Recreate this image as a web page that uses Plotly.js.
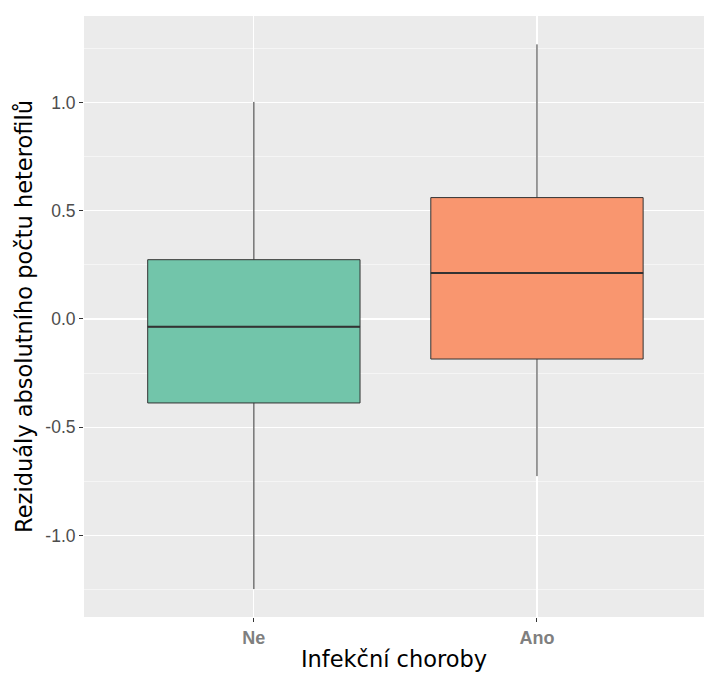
<!DOCTYPE html>
<html>
<head>
<meta charset="utf-8">
<script src="https://cdn.plot.ly/plotly-3.0.1.min.js"></script>
<style>html,body{margin:0;padding:0;background:#fff;}</style>
</head>
<body>
<div id="chart" style="width:704px;height:673px;"></div>
<script>
// Data
var categories = ["Ne", "Ano"];
var lowerWhisker = [-1.248, -0.726];
var q1Values = [-0.388, -0.185];
var medianValues = [-0.036, 0.212];
var q3Values = [0.274, 0.561];
var upperWhisker = [1.003, 1.269];
var fillColors = ["#72C5AA", "#F9966F"];
var yTickVals = [-1.0, -0.5, 0.0, 0.5, 1.0];
var yTickText = ["-1.0", "-0.5", "0.0", "0.5", "1.0"];

var traces = categories.map(function (c, i) {
  return {
    type: "box",
    x: [c],
    q1: [q1Values[i]],
    median: [medianValues[i]],
    q3: [q3Values[i]],
    lowerfence: [lowerWhisker[i]],
    upperfence: [upperWhisker[i]],
    fillcolor: fillColors[i],
    line: { color: "#333333", width: 1 },
    whiskerwidth: 0,
    width: 0.75,
    boxpoints: false,
    showlegend: false,
    hoverinfo: "skip"
  };
});

// thicker median segments like ggplot
var shapes = categories.map(function (c, i) {
  return {
    type: "line", xref: "x", yref: "y",
    x0: i - 0.375, x1: i + 0.375,
    y0: medianValues[i], y1: medianValues[i],
    line: { color: "#333333", width: 2 }
  };
});

var layout = {
  width: 704, height: 673,
  margin: { l: 84, r: 0, t: 16, b: 56, pad: 0 },
  paper_bgcolor: "#FFFFFF",
  plot_bgcolor: "#EBEBEB",
  font: { family: "Liberation Sans, Arial, sans-serif" },
  shapes: shapes,
  xaxis: {
    type: "category",
    range: [-0.6, 1.59],
    showgrid: true, gridcolor: "#FFFFFF", gridwidth: 1.1,
    zeroline: false, showline: false,
    ticks: "outside", ticklen: 4, tickcolor: "#333333", tickwidth: 1,
    tickfont: { family: "Liberation Sans, Arial, sans-serif", size: 18, color: "#7F7F7F", weight: "bold" },
    title: { text: "Infekční choroby", font: { family: "DejaVu Sans, sans-serif", size: 22.5, color: "#000000" }, standoff: 4 }
  },
  yaxis: {
    range: [-1.377, 1.400],
    tickvals: yTickVals, ticktext: yTickText,
    showgrid: true, gridcolor: "#FFFFFF", gridwidth: 1.1,
    minor: { dtick: 0.25, tick0: 0, showgrid: true, gridcolor: "#FFFFFF", gridwidth: 0.5, ticks: "" },
    zeroline: false, showline: false,
    ticks: "outside", ticklen: 4, tickcolor: "#333333", tickwidth: 1,
    tickfont: { family: "Liberation Sans, Arial, sans-serif", size: 17.5, color: "#4D4D4D" },
    title: { text: "Reziduály absolutního počtu heterofilů", font: { family: "DejaVu Sans, sans-serif", size: 22.5, color: "#000000" }, standoff: 6 }
  }
};

Plotly.newPlot("chart", traces, layout, { staticPlot: true, displayModeBar: false });
</script>
</body>
</html>
